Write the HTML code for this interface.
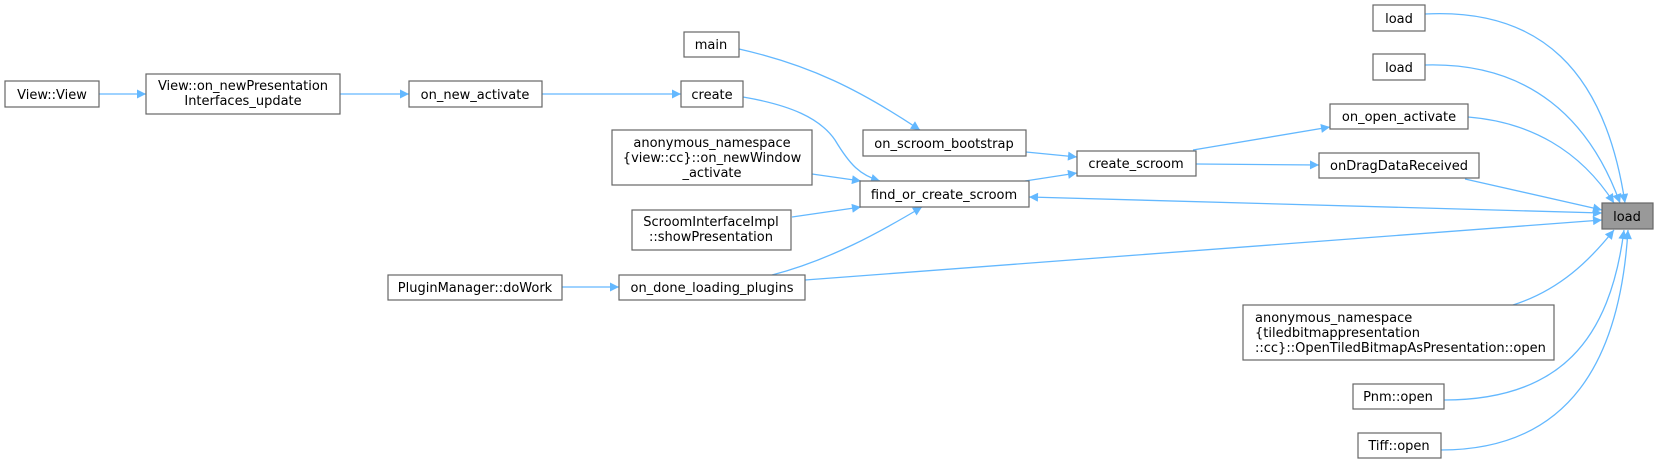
<!DOCTYPE html>
<html><head><meta charset="utf-8"><style>
html,body{margin:0;padding:0;background:#fff;}
svg{display:block;}
text{font-family:"DejaVu Sans","Liberation Sans",sans-serif;font-size:13px;fill:#000;}
.n{fill:#fff;stroke:#666;stroke-width:1.2;}
.e{fill:none;stroke:#63b8ff;stroke-width:1.3;}
</style></head><body>
<svg width="1659" height="464" viewBox="0 0 1659 464" xmlns="http://www.w3.org/2000/svg">
<defs>
<marker id="a" viewBox="0 0 10 10" refX="10" refY="5" markerWidth="12" markerHeight="9" markerUnits="userSpaceOnUse" orient="auto"><path d="M0,0 L10,5 L0,10 z" fill="#63b8ff"/></marker>
<marker id="b" viewBox="0 0 10 10" refX="0" refY="5" markerWidth="12" markerHeight="9" markerUnits="userSpaceOnUse" orient="auto"><path d="M10,0 L0,5 L10,10 z" fill="#63b8ff"/></marker>
</defs>
<!-- edges -->
<path class="e" marker-end="url(#a)" d="M99,94 L146,94"/>
<path class="e" marker-end="url(#a)" d="M340,94 L409,94"/>
<path class="e" marker-end="url(#a)" d="M542,94 L681,94"/>
<path class="e" marker-end="url(#a)" d="M562,287 L619,287"/>
<path class="e" marker-end="url(#a)" d="M739,49 C810,65 860,90 920,130"/>
<path class="e" marker-end="url(#a)" d="M743,97 C790,105 820,118 835,140 C850,165 860,175 880,181"/>
<path class="e" marker-end="url(#a)" d="M812,174 L861,181"/>
<path class="e" marker-end="url(#a)" d="M792,217 L861,207"/>
<path class="e" marker-end="url(#a)" d="M772,275 C830,260 880,232 922,207"/>
<path class="e" marker-end="url(#a)" d="M805,280 L1602,220"/>
<path class="e" marker-end="url(#a)" d="M1026,152 L1077,157"/>
<path class="e" marker-end="url(#a)" d="M1025,181 L1077,173"/>
<path class="e" marker-end="url(#a)" d="M1193,150 L1330,127"/>
<path class="e" marker-end="url(#a)" d="M1196,164 L1319,165"/>
<path class="e" marker-start="url(#b)" marker-end="url(#a)" d="M1029,197 L1602,213"/>
<path class="e" marker-end="url(#a)" d="M1425,14 C1540,8 1605,70 1625,203"/>
<path class="e" marker-end="url(#a)" d="M1425,65 C1530,62 1590,120 1620,203"/>
<path class="e" marker-end="url(#a)" d="M1468,117 C1530,122 1580,150 1614,203"/>
<path class="e" marker-end="url(#a)" d="M1465,179 L1602,210"/>
<path class="e" marker-end="url(#a)" d="M1513,305 C1560,290 1590,260 1614,230"/>
<path class="e" marker-end="url(#a)" d="M1444,400 C1560,400 1610,340 1624,230"/>
<path class="e" marker-end="url(#a)" d="M1441,450 C1570,450 1620,360 1628,230"/>
<!-- nodes -->
<rect class="n" x="5" y="81" width="94" height="26"/><text x="52" y="99" text-anchor="middle">View::View</text>
<rect class="n" x="146" y="74" width="194" height="40"/><text x="243" y="90" text-anchor="middle">View::on_newPresentation</text><text x="243" y="105" text-anchor="middle">Interfaces_update</text>
<rect class="n" x="409" y="81" width="133" height="26"/><text x="475" y="99" text-anchor="middle">on_new_activate</text>
<rect class="n" x="388" y="275" width="174" height="25"/><text x="475" y="292" text-anchor="middle">PluginManager::doWork</text>
<rect class="n" x="684" y="32" width="55" height="25"/><text x="711" y="49" text-anchor="middle">main</text>
<rect class="n" x="681" y="81" width="62" height="26"/><text x="712" y="99" text-anchor="middle">create</text>
<rect class="n" x="612" y="130" width="200" height="55"/><text x="712" y="147" text-anchor="middle">anonymous_namespace</text><text x="712" y="162" text-anchor="middle">{view::cc}::on_newWindow</text><text x="712" y="177" text-anchor="middle">_activate</text>
<rect class="n" x="632" y="210" width="159" height="40"/><text x="711" y="226" text-anchor="middle">ScroomInterfaceImpl</text><text x="711" y="241" text-anchor="middle">::showPresentation</text>
<rect class="n" x="863" y="130" width="163" height="26"/><text x="944" y="148" text-anchor="middle">on_scroom_bootstrap</text>
<rect class="n" x="860" y="181" width="169" height="26"/><text x="944" y="199" text-anchor="middle">find_or_create_scroom</text>
<rect class="n" x="619" y="275" width="186" height="25"/><text x="712" y="292" text-anchor="middle">on_done_loading_plugins</text>
<rect class="n" x="1077" y="151" width="119" height="25"/><text x="1136" y="168" text-anchor="middle">create_scroom</text>
<rect class="n" x="1373" y="5" width="52" height="26"/><text x="1399" y="23" text-anchor="middle">load</text>
<rect class="n" x="1373" y="54" width="52" height="26"/><text x="1399" y="72" text-anchor="middle">load</text>
<rect class="n" x="1330" y="104" width="138" height="25"/><text x="1399" y="121" text-anchor="middle">on_open_activate</text>
<rect class="n" x="1319" y="153" width="160" height="25"/><text x="1399" y="170" text-anchor="middle">onDragDataReceived</text>
<rect class="n" x="1243" y="305" width="311" height="55"/><text x="1255" y="322">anonymous_namespace</text><text x="1255" y="337">{tiledbitmappresentation</text><text x="1255" y="352">::cc}::OpenTiledBitmapAsPresentation::open</text>
<rect class="n" x="1353" y="384" width="91" height="25"/><text x="1398" y="401" text-anchor="middle">Pnm::open</text>
<rect class="n" x="1358" y="433" width="83" height="25"/><text x="1399" y="450" text-anchor="middle">Tiff::open</text>
<rect x="1602" y="203" width="51" height="26" fill="#999" stroke="#666" stroke-width="1.2"/><text x="1627" y="221" text-anchor="middle">load</text>
</svg>
</body></html>
